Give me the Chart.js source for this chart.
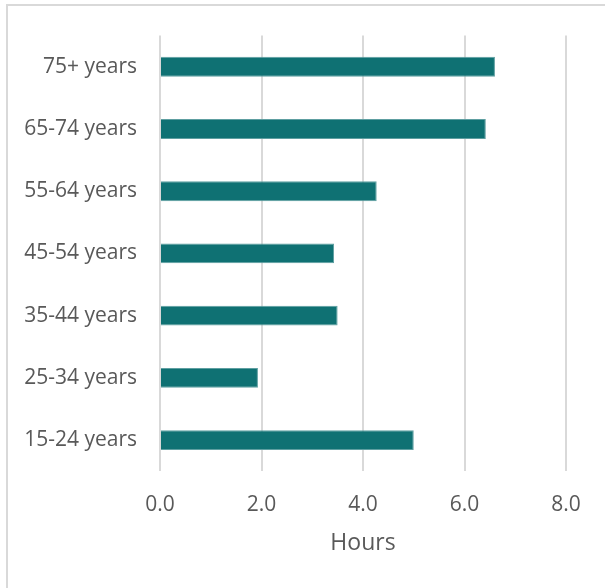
<!DOCTYPE html>
<html lang="en">
<head>
    <meta charset="UTF-8">
    <title>Hours by age group</title>
    <script src="https://cdn.jsdelivr.net/npm/chart.js"></script>
    <style>
        html, body {
            margin: 0;
            padding: 0;
            background: #fff;
        }
        .frame {
            position: absolute;
            left: 6px;
            top: 4px;
            width: 640px;
            height: 640px;
            border-left: 2px solid #d9d9d9;
            border-top: 2px solid #d9d9d9;
            pointer-events: none;
        }
        .chart-container {
            position: absolute;
            left: 0;
            top: 0;
            width: 605px;
            height: 588px;
        }
    </style>
</head>
<body>
    <div class="chart-container">
        <canvas id="hoursChart"></canvas>
    </div>
    <div class="frame"></div>

    <script>
        const ageGroups = ['75+ years', '65-74 years', '55-64 years', '45-54 years', '35-44 years', '25-34 years', '15-24 years'];
        const hours = [6.6, 6.42, 4.27, 3.43, 3.5, 1.93, 5.0];
        const axisTitle = 'Hours';

        const textColor = '#595959';
        const gridColor = '#d9d9d9';

        const ctx = document.getElementById('hoursChart').getContext('2d');
        new Chart(ctx, {
            type: 'bar',
            data: {
                labels: ageGroups,
                datasets: [{
                    data: hours,
                    backgroundColor: '#0f7173',
                    borderColor: '#5e9fa1',
                    borderWidth: 1,
                    categoryPercentage: 1,
                    barPercentage: 0.32
                }]
            },
            options: {
                indexAxis: 'y',
                responsive: true,
                maintainAspectRatio: false,
                animation: false,
                layout: {
                    padding: { left: 0, top: 34, right: 39, bottom: 31 }
                },
                scales: {
                    x: {
                        min: 0,
                        max: 8,
                        ticks: {
                            stepSize: 2,
                            padding: 21,
                            color: textColor,
                            font: { family: 'Open Sans', size: 21 },
                            callback: v => v.toFixed(1)
                        },
                        grid: {
                            color: gridColor,
                            lineWidth: 2,
                            drawTicks: false
                        },
                        border: { display: false },
                        title: {
                            display: true,
                            text: axisTitle,
                            color: textColor,
                            font: { family: 'Open Sans', size: 23 },
                            padding: { top: -9, bottom: 0 }
                        }
                    },
                    y: {
                        afterFit: scale => { scale.width = 160; },
                        ticks: {
                            padding: 23,
                            color: textColor,
                            font: { family: 'Open Sans', size: 21 }
                        },
                        grid: { display: false, drawTicks: false },
                        border: { display: false }
                    }
                },
                plugins: {
                    legend: { display: false },
                    tooltip: { enabled: false }
                }
            }
        });
    </script>
</body>
</html>
